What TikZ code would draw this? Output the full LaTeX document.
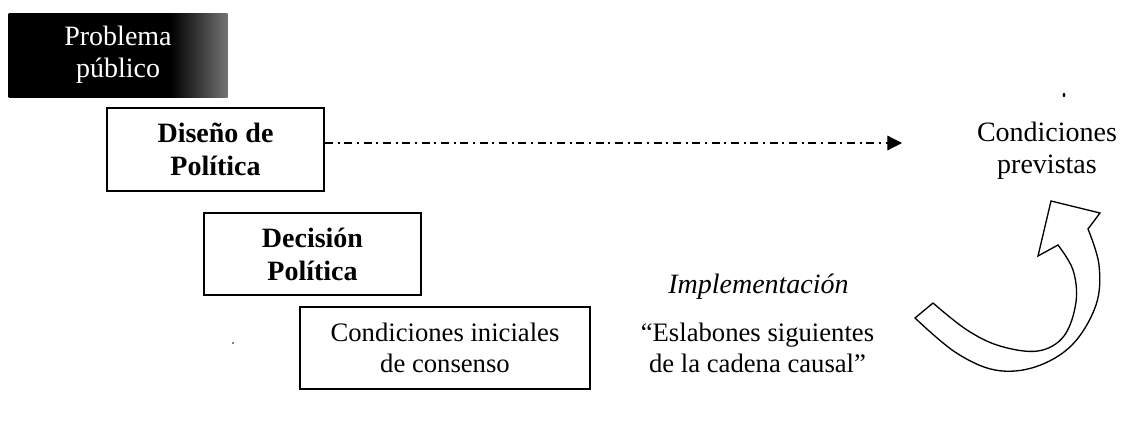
\documentclass[tikz,border=0pt]{standalone}
\usepackage{fontspec}
\setmainfont{Liberation Serif}
\usetikzlibrary{arrows.meta}
\pgfdeclarehorizontalshading{probshade}{100bp}{color(0bp)=(black); color(25bp)=(black); color(62bp)=(black); color(75bp)=(black!55); color(100bp)=(black!55)}
\begin{document}
\begin{tikzpicture}[x=0.75pt,y=-0.75pt,
  stagebox/.style={draw=black, line width=1.3pt, fill=white, inner sep=0pt, align=center},
  boldtxt/.style={font=\fontsize{21}{24.75}\selectfont\bfseries},
  plaintxt/.style={font=\fontsize{20}{23.5}\selectfont},
  dasharrow/.style={line width=0.9pt, dash pattern=on 6pt off 3.5pt on 1.5pt off 3.5pt, -{Triangle[length=11pt,width=11pt]}},
  blockarrow/.style={draw=black, line width=1pt, fill=white, line join=miter}]
\useasboundingbox (0,0) rectangle (1122,421);

% Problema publico (dark box)
\node[inner sep=0pt, minimum width=164.25pt, minimum height=63pt, shading=probshade, align=center,
      text=white, font=\fontsize{21}{24}\selectfont] (prob) at (118,55) {Problema\\público};

% stage boxes
\node[stagebox, boldtxt, minimum width=162.75pt, minimum height=62.25pt] (dis) at (215.5,149.5) {Diseño de\\Política};
\node[stagebox, boldtxt, minimum width=162.75pt, minimum height=61.5pt] (dec) at (312.5,254) {Decisión\\Política};
\node[stagebox, plaintxt, minimum width=217.5pt, minimum height=61.5pt] (cond) at (445,348) {Condiciones iniciales\\de consenso};

% right-hand texts
\node[align=center, inner sep=0pt, font=\fontsize{21}{24}\selectfont] (prev) at (1047,151) {Condiciones\\previstas};
\node[inner sep=0pt, font=\fontsize{21}{24}\selectfont\itshape] (impl) at (758.5,287) {Implementación};
\node[align=center, inner sep=0pt, plaintxt] (esl) at (757.5,348) {“Eslabones siguientes\\de la cadena causal”};

% dashed arrow
\coordinate (dend) at (902,143);
\draw[dasharrow] (dis.east |- dend) -- (dend);

% curved block arrow
\draw[blockarrow]
  (915,318) -- (933,303)
  -- plot[smooth, tension=0.6] coordinates {(933,303) (967,330) (1000,346) (1038,351) (1064,336) (1076,302) (1073,270) (1058,245)}
  -- (1038,256) -- (1051,201) -- (1100,213) -- (1088,229)
  -- plot[smooth, tension=0.6] coordinates {(1088,229) (1099,265) (1096,305) (1072,345) (1035,367) (995,370) (955,352) (915,318)}
  -- cycle;

% small specks
\fill (1064,95) ellipse (1pt and 1.6pt);
\fill (233,343) circle (0.6pt);
\end{tikzpicture}
\end{document}
